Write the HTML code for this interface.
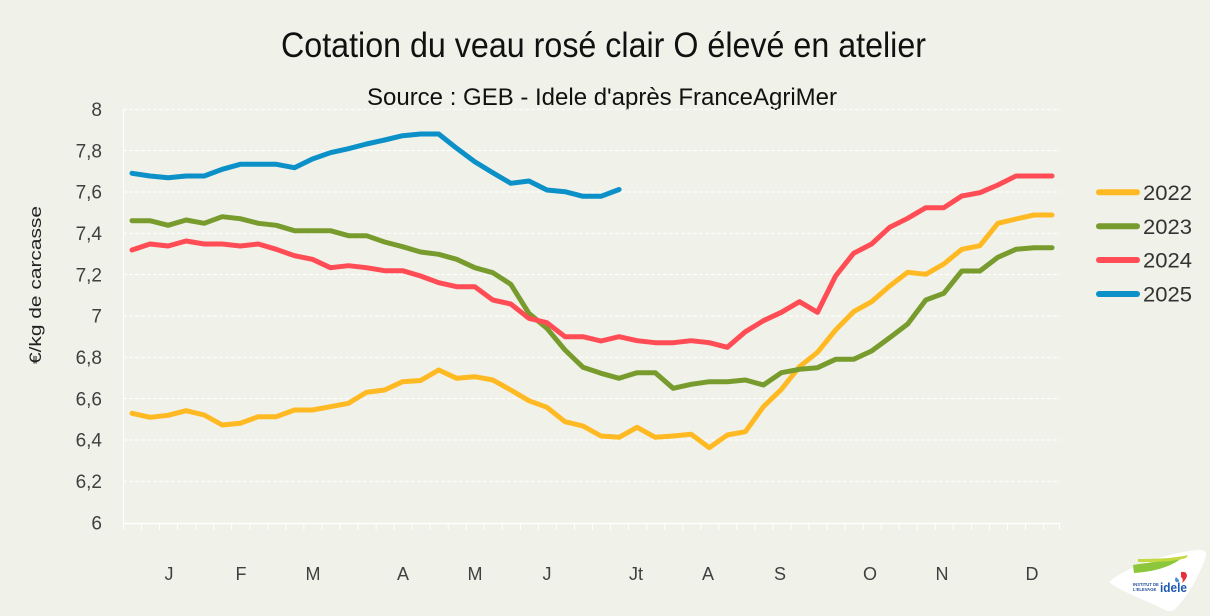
<!DOCTYPE html>
<html>
<head>
<meta charset="utf-8">
<style>
html,body{margin:0;padding:0;background:#F0F1E9;}
svg{display:block;}
text{font-family:"Liberation Sans",sans-serif;}
</style>
</head>
<body>
<svg width="1210" height="616" viewBox="0 0 1210 616" xmlns="http://www.w3.org/2000/svg">
<rect x="0" y="0" width="1210" height="616" fill="#F0F1E9"/>

<!-- Title -->
<text x="281" y="57" font-size="35" fill="#111" textLength="645" lengthAdjust="spacingAndGlyphs">Cotation du veau rosé clair O élevé en atelier</text>
<text x="367" y="105" font-size="24" fill="#111" textLength="470" lengthAdjust="spacingAndGlyphs">Source : GEB - Idele d'après FranceAgriMer</text>

<!-- Gridlines -->
<g stroke="#FFFFFF" stroke-width="1" stroke-dasharray="4,2">
<line x1="123" y1="109.3" x2="1060" y2="109.3"/>
<line x1="123" y1="150.6" x2="1060" y2="150.6"/>
<line x1="123" y1="192" x2="1060" y2="192"/>
<line x1="123" y1="233.3" x2="1060" y2="233.3"/>
<line x1="123" y1="274.6" x2="1060" y2="274.6"/>
<line x1="123" y1="316" x2="1060" y2="316"/>
<line x1="123" y1="357.3" x2="1060" y2="357.3"/>
<line x1="123" y1="398.6" x2="1060" y2="398.6"/>
<line x1="123" y1="440" x2="1060" y2="440"/>
<line x1="123" y1="481.3" x2="1060" y2="481.3"/>
</g>
<line x1="123.5" y1="109" x2="123.5" y2="524" stroke="#FFFFFF" stroke-width="1"/>
<line x1="123" y1="523.5" x2="1060" y2="523.5" stroke="#FFFFFF" stroke-width="1.5"/>
<g stroke="#FFFFFF" stroke-width="1">
<line x1="123.5" y1="523" x2="123.5" y2="530"/><line x1="141.5" y1="523" x2="141.5" y2="530"/><line x1="159.6" y1="523" x2="159.6" y2="530"/><line x1="177.6" y1="523" x2="177.6" y2="530"/><line x1="195.7" y1="523" x2="195.7" y2="530"/><line x1="213.7" y1="523" x2="213.7" y2="530"/><line x1="231.7" y1="523" x2="231.7" y2="530"/><line x1="249.8" y1="523" x2="249.8" y2="530"/><line x1="267.8" y1="523" x2="267.8" y2="530"/><line x1="285.9" y1="523" x2="285.9" y2="530"/><line x1="303.9" y1="523" x2="303.9" y2="530"/><line x1="321.9" y1="523" x2="321.9" y2="530"/><line x1="340" y1="523" x2="340" y2="530"/><line x1="358" y1="523" x2="358" y2="530"/><line x1="376.1" y1="523" x2="376.1" y2="530"/><line x1="394.1" y1="523" x2="394.1" y2="530"/><line x1="412.1" y1="523" x2="412.1" y2="530"/><line x1="430.2" y1="523" x2="430.2" y2="530"/><line x1="448.2" y1="523" x2="448.2" y2="530"/><line x1="466.3" y1="523" x2="466.3" y2="530"/><line x1="484.3" y1="523" x2="484.3" y2="530"/><line x1="502.3" y1="523" x2="502.3" y2="530"/><line x1="520.4" y1="523" x2="520.4" y2="530"/><line x1="538.4" y1="523" x2="538.4" y2="530"/><line x1="556.5" y1="523" x2="556.5" y2="530"/><line x1="574.5" y1="523" x2="574.5" y2="530"/><line x1="592.5" y1="523" x2="592.5" y2="530"/><line x1="610.6" y1="523" x2="610.6" y2="530"/><line x1="628.6" y1="523" x2="628.6" y2="530"/><line x1="646.7" y1="523" x2="646.7" y2="530"/><line x1="664.7" y1="523" x2="664.7" y2="530"/><line x1="682.7" y1="523" x2="682.7" y2="530"/><line x1="700.8" y1="523" x2="700.8" y2="530"/><line x1="718.8" y1="523" x2="718.8" y2="530"/><line x1="736.9" y1="523" x2="736.9" y2="530"/><line x1="754.9" y1="523" x2="754.9" y2="530"/><line x1="772.9" y1="523" x2="772.9" y2="530"/><line x1="791" y1="523" x2="791" y2="530"/><line x1="809" y1="523" x2="809" y2="530"/><line x1="827.1" y1="523" x2="827.1" y2="530"/><line x1="845.1" y1="523" x2="845.1" y2="530"/><line x1="863.1" y1="523" x2="863.1" y2="530"/><line x1="881.2" y1="523" x2="881.2" y2="530"/><line x1="899.2" y1="523" x2="899.2" y2="530"/><line x1="917.3" y1="523" x2="917.3" y2="530"/><line x1="935.3" y1="523" x2="935.3" y2="530"/><line x1="953.3" y1="523" x2="953.3" y2="530"/><line x1="971.4" y1="523" x2="971.4" y2="530"/><line x1="989.4" y1="523" x2="989.4" y2="530"/><line x1="1007.5" y1="523" x2="1007.5" y2="530"/><line x1="1025.5" y1="523" x2="1025.5" y2="530"/><line x1="1043.5" y1="523" x2="1043.5" y2="530"/><line x1="1059.5" y1="523" x2="1059.5" y2="530"/>
</g>

<!-- Y tick labels -->
<g font-size="19" fill="#404040" text-anchor="end">
<text x="102" y="116">8</text>
<text x="102" y="157.3">7,8</text>
<text x="102" y="198.7">7,6</text>
<text x="102" y="240">7,4</text>
<text x="102" y="281.3">7,2</text>
<text x="102" y="322.7">7</text>
<text x="102" y="364">6,8</text>
<text x="102" y="405.3">6,6</text>
<text x="102" y="446.7">6,4</text>
<text x="102" y="488">6,2</text>
<text x="102" y="529.3">6</text>
</g>
<text transform="translate(41,285) rotate(-90)" font-size="17" fill="#222" text-anchor="middle" textLength="158" lengthAdjust="spacingAndGlyphs">€/kg de carcasse</text>

<!-- Month labels -->
<g font-size="18" fill="#404040" text-anchor="middle">
<text x="169" y="580">J</text>
<text x="241" y="580">F</text>
<text x="313" y="580">M</text>
<text x="403" y="580">A</text>
<text x="475" y="580">M</text>
<text x="547" y="580">J</text>
<text x="636" y="580">Jt</text>
<text x="708" y="580">A</text>
<text x="780" y="580">S</text>
<text x="870" y="580">O</text>
<text x="942" y="580">N</text>
<text x="1032" y="580">D</text>
</g>

<!-- Series -->
<g fill="none" stroke-width="5" stroke-linejoin="round" stroke-linecap="round">
<polyline stroke="#FFB922" points="132,413.3 150,417.3 168.1,415.3 186.1,410.7 204.2,415 222.2,425 240.2,423.3 258.3,416.7 276.3,416.7 294.4,410 312.4,410 330.4,406.7 348.5,403.3 366.5,392.3 384.6,390 402.6,381.7 420.6,380.5 438.7,370 456.7,378.3 474.8,376.7 492.8,380 510.8,390 528.9,400.7 546.9,407.3 565,421.7 583,426 601,436 619.1,437.3 637.1,427.3 655.2,437.3 673.2,436 691.2,434.3 709.3,447.7 727.3,435 745.4,431.7 763.4,406.7 781.4,389.3 799.5,366.7 817.5,352.3 835.6,330 853.6,311.7 871.6,301.7 889.7,286 907.7,272.3 925.8,274.3 943.8,264 961.8,249.3 979.9,245.7 997.9,223.3 1016,219 1034,215 1052,215"/>
<polyline stroke="#789B2D" points="132,220.7 150,220.7 168.1,225.3 186.1,220 204.2,223.3 222.2,216.7 240.2,218.7 258.3,223.3 276.3,225.3 294.4,230.7 312.4,230.7 330.4,230.7 348.5,235.7 366.5,235.7 384.6,242 402.6,246.7 420.6,252 438.7,254.3 456.7,259.3 474.8,267.7 492.8,272.7 510.8,284.3 528.9,313.3 546.9,328.3 565,350 583,367.3 601,373.3 619.1,378.3 637.1,372.7 655.2,372.7 673.2,388.3 691.2,384.3 709.3,381.7 727.3,381.7 745.4,380 763.4,385 781.4,372.7 799.5,369.3 817.5,367.7 835.6,359.3 853.6,359.3 871.6,351 889.7,337.7 907.7,324 925.8,300 943.8,293.3 961.8,271 979.9,271 997.9,257.3 1016,249.3 1034,247.7 1052,247.7"/>
<polyline stroke="#FF4C55" points="132,250 150,244 168.1,246 186.1,241 204.2,244 222.2,244 240.2,246 258.3,244 276.3,249.3 294.4,255.7 312.4,259.3 330.4,267.7 348.5,265.7 366.5,267.7 384.6,270.7 402.6,270.7 420.6,276 438.7,282.7 456.7,286.7 474.8,286.7 492.8,300 510.8,304 528.9,318.3 546.9,322.7 565,336.7 583,336.7 601,341 619.1,336.7 637.1,340.7 655.2,342.7 673.2,342.7 691.2,340.7 709.3,342.7 727.3,347.3 745.4,331.7 763.4,320.7 781.4,312.3 799.5,301.7 817.5,312.3 835.6,276 853.6,253.3 871.6,244 889.7,227.3 907.7,218.3 925.8,207.7 943.8,207.7 961.8,196 979.9,192.7 997.9,185 1016,176 1034,176 1052,176"/>
<polyline stroke="#0B90C8" points="132,173.3 150,176 168.1,177.7 186.1,176 204.2,176 222.2,169.3 240.2,164.3 258.3,164.3 276.3,164.3 294.4,167.7 312.4,159 330.4,152.7 348.5,148.7 366.5,144 384.6,140 402.6,135.7 420.6,134 438.7,134 456.7,148.3 474.8,161.7 492.8,172.7 510.8,183.3 528.9,181 546.9,190 565,191.7 583,196.3 601,196.3 619.1,189.5"/>
</g>

<!-- Legend -->
<g stroke-width="6" stroke-linecap="round">
<line x1="1099" y1="192.3" x2="1137" y2="192.3" stroke="#FFB922"/>
<line x1="1099" y1="226.3" x2="1137" y2="226.3" stroke="#789B2D"/>
<line x1="1099" y1="260" x2="1137" y2="260" stroke="#FF4C55"/>
<line x1="1099" y1="294" x2="1137" y2="294" stroke="#0B90C8"/>
</g>
<g font-size="21" fill="#333">
<text x="1143" y="200" textLength="49" lengthAdjust="spacingAndGlyphs">2022</text>
<text x="1143" y="234" textLength="49" lengthAdjust="spacingAndGlyphs">2023</text>
<text x="1143" y="267.7" textLength="49" lengthAdjust="spacingAndGlyphs">2024</text>
<text x="1143" y="301.7" textLength="49" lengthAdjust="spacingAndGlyphs">2025</text>
</g>

<!-- Logo -->
<path d="M1109,582 C1125,568 1165,553 1198,550 Q1209,549 1205,559 C1198,578 1188,596 1175,609 Q1170,613 1163,609 C1145,600 1122,592 1109,582 Z" fill="#FFFFFF"/>
<path d="M1133,565 C1150,562 1170,561 1184,556 C1173,567 1152,572 1134,573 Z" fill="#8CC63A"/>
<path d="M1138,559 C1160,559 1176,558 1188,555 L1186,558 C1172,562 1156,562 1138,562 Z" fill="#C4D940"/>
<path d="M1176,577 q-2,3 0,5 q3,1 3,-2 z" fill="#4A90D0"/>
<path d="M1181,572 q6,-1 6,4 q-1,4 -5,7 q2,-4 -1,-6 z" fill="#E8303A"/>
<text x="1133" y="586" font-size="4.2" fill="#1E4C9A" font-weight="bold">INSTITUT DE</text>
<text x="1133" y="591" font-size="4.2" fill="#1E4C9A" font-weight="bold">L'ELEVAGE</text>
<text x="1160" y="592" font-size="13" fill="#1E5AB0" font-weight="bold" textLength="27" lengthAdjust="spacingAndGlyphs">idele</text>
</svg>
</body>
</html>
